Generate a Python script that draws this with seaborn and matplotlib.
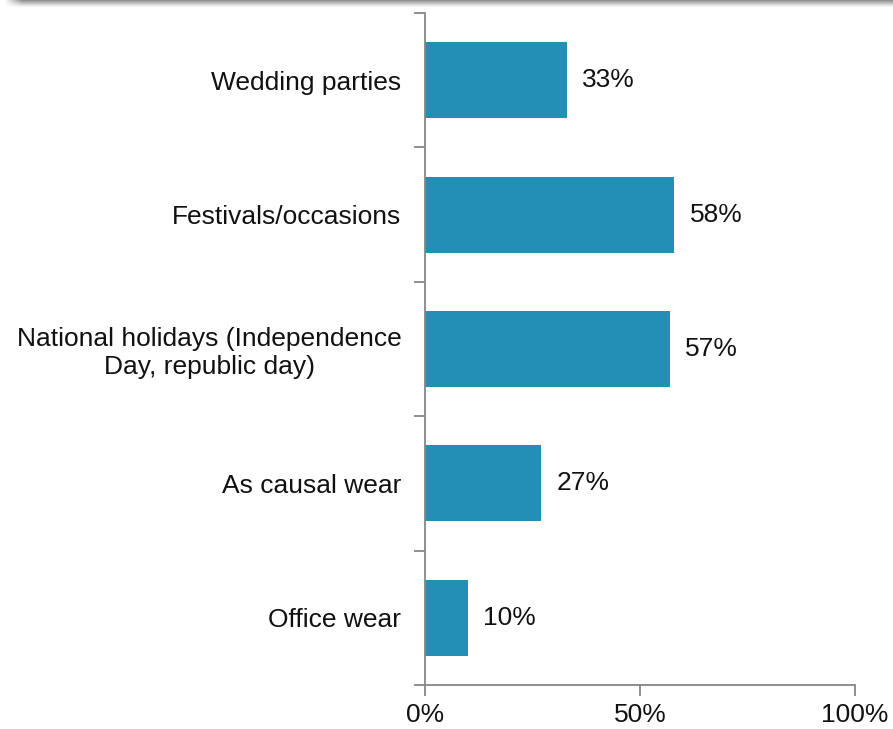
import numpy as np
import pandas as pd
import matplotlib
matplotlib.use("Agg")
import matplotlib.pyplot as plt
import seaborn as sns

# Occasions and share of respondents (%)
occasions = [
    "Wedding parties",
    "Festivals/occasions",
    "National holidays (Independence\nDay, republic day)",
    "As causal wear",
    "Office wear",
]
shares = [33, 58, 57, 27, 10]
x_ticks = [0, 50, 100]
x_tick_labels = ["0%", "50%", "100%"]

BAR_COLOR = "#238FB5"
AXIS_COLOR = "#868686"
TEXT_COLOR = "#111111"
FONT_SIZE = 19

sns.set_theme(style="white")
plt.rcParams["font.family"] = ["Liberation Sans", "DejaVu Sans"]

df = pd.DataFrame({"occasion": occasions, "share": shares})

fig = plt.figure(figsize=(8.93, 7.29), dpi=100)
ax = fig.add_axes([425 / 893, 44 / 729, 430 / 893, 672 / 729])

sns.barplot(data=df, x="share", y="occasion", orient="h", color=BAR_COLOR,
            saturation=1, width=0.565, ax=ax)
for patch in ax.patches:
    patch.set_edgecolor("none")

# value labels to the right of each bar
for cont in ax.containers:
    ax.bar_label(cont, labels=[f"{v}%" for v in shares], padding=11,
                 fontsize=FONT_SIZE, color=TEXT_COLOR)

ax.set_xlim(0, 100)
ax.set_ylim(len(occasions) - 0.5, -0.5)
ax.set_xticks(x_ticks)
ax.set_xticklabels(x_tick_labels)
ax.set_xlabel("")
ax.set_ylabel("")

# category boundary ticks on the vertical axis
ax.set_yticks(np.arange(-0.5, len(occasions)), minor=True)
ax.tick_params(axis="y", which="major", length=0, pad=17,
               labelsize=FONT_SIZE, labelcolor=TEXT_COLOR)
ax.tick_params(axis="y", which="minor", length=8, width=1.3,
               color=AXIS_COLOR, direction="out", left=True)
ax.tick_params(axis="x", which="major", length=8, width=1.3,
               color=AXIS_COLOR, direction="out", bottom=True, pad=5,
               labelsize=FONT_SIZE, labelcolor=TEXT_COLOR)
for lbl in ax.get_yticklabels():
    lbl.set_multialignment("center")

for side in ["top", "right"]:
    ax.spines[side].set_visible(False)
for side in ["left", "bottom"]:
    ax.spines[side].set_color(AXIS_COLOR)
    ax.spines[side].set_linewidth(1.3)
ax.grid(False)

# soft gray shadow band along the top edge
h, w = 9, 893
yy = np.linspace(0, 1, h)[:, None]
xx = np.arange(w)[None, :]
vert = np.clip(1 - yy * 1.1, 0, 1) ** 1.3
horiz = np.clip((xx - 4) / 18, 0, 1)
alpha = 0.75 * vert * horiz
rgba = np.zeros((h, w, 4))
rgba[..., :3] = 0.42
rgba[..., 3] = alpha
sax = fig.add_axes([0, 1 - h / 729, 1, h / 729])
sax.imshow(rgba, aspect="auto", interpolation="bilinear")
sax.set_axis_off()

fig.savefig("out.png", dpi=100)
